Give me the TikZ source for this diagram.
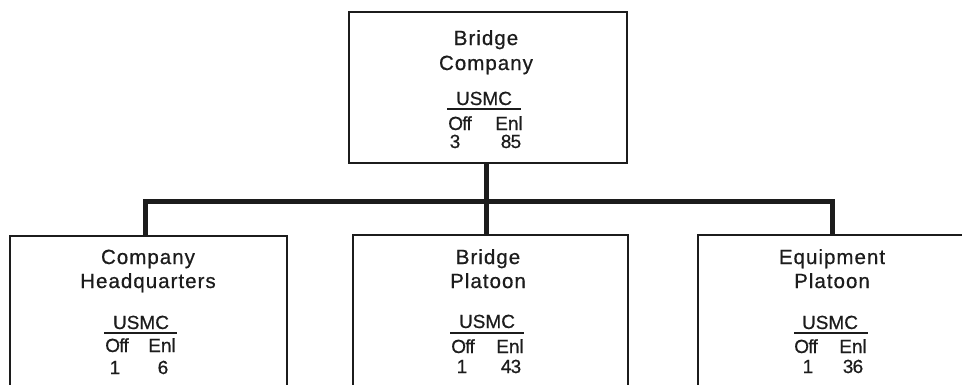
\documentclass[tikz,border=0pt]{standalone}
\usepackage{fontspec}
\setmainfont{Liberation Sans}[FakeBold=0.6]
\definecolor{ink}{HTML}{1C1C1C}
\begin{document}
\begin{tikzpicture}[x=1pt,y=1pt,
  box/.style={draw=ink,line width=2pt,rectangle,inner sep=0pt},
  conn/.style={draw=ink,line width=5pt,line join=miter},
  ttl/.style={anchor=base,inner sep=0pt,text=ink,font=\fontsize{20.5}{20.5}\selectfont\addfontfeatures{LetterSpace=5,FakeBold=0.6}},
  sub/.style={anchor=base,inner sep=0pt,text=ink,font=\fontsize{19}{19}\selectfont\addfontfeatures{FakeBold=0.6}},
  num/.style={anchor=base,inner sep=0pt,text=ink,font=\fontsize{19}{19}\selectfont\addfontfeatures{LetterSpace=-4,FakeBold=0.6}},
  rule/.style={draw=ink,line width=1.2pt}]
\clip (0,0) rectangle (962,-384);
\fill[white] (0,0) rectangle (962,-384);
% boxes
\node[box,minimum width=278,minimum height=151] (top) at (488,-87.5) {};
\node[box,minimum width=277,minimum height=180] (hq) at (148.5,-326) {};
\node[box,minimum width=275,minimum height=180] (bp) at (490.5,-325) {};
\node[box,minimum width=277,minimum height=180] (eq) at (836.5,-325) {};
% connectors
\coordinate (j) at (486,-201);
\draw[conn] (top.south -| j) -- (j);
\draw[conn] (hq.north -| 145,0) |- (j) -| (eq.north -| 832,0);
\draw[conn] (j) -- (bp.north -| j);
% top box text
\node[ttl] (t1) at (486,-45) {Bridge};
\node[ttl] (t2) at (486,-70) {Company};
\node[sub] (tu) at (484,-105) {USMC};
\draw[rule] (447,-109) -- (521,-109);
\node[num] (to) at (460,-130) {Off};
\node[sub] (te) at (509,-130) {Enl};
\node[sub] (tn1) at (455,-148) {3};
\node[num] (tn2) at (511,-148) {85};
% left box text
\node[ttl] (h1) at (148,-264) {Company};
\node[ttl] (h2) at (148,-288) {Headquarters};
\node[sub] (hu) at (141,-329) {USMC};
\draw[rule] (104,-333) -- (177,-333);
\node[num] (ho) at (117,-352) {Off};
\node[sub] (he) at (162,-352) {Enl};
\node[sub] (hn1) at (115,-374) {1};
\node[sub] (hn2) at (163,-374) {6};
% middle box text
\node[ttl] (b1) at (488,-264) {Bridge};
\node[ttl] (b2) at (488,-288) {Platoon};
\node[sub] (bu) at (487,-328) {USMC};
\draw[rule] (450,-333) -- (524,-333);
\node[num] (bo) at (463,-353) {Off};
\node[sub] (be) at (510,-353) {Enl};
\node[sub] (bn1) at (462,-373) {1};
\node[num] (bn2) at (511,-373) {43};
% right box text
\node[ttl] (e1) at (832,-264) {Equipment};
\node[ttl] (e2) at (832,-288) {Platoon};
\node[sub] (eu) at (830,-329) {USMC};
\draw[rule] (794,-333) -- (868,-333);
\node[num] (eo) at (806,-353) {Off};
\node[sub] (ee) at (853,-353) {Enl};
\node[sub] (en1) at (808,-373) {1};
\node[num] (en2) at (853,-373) {36};
\end{tikzpicture}
\end{document}
